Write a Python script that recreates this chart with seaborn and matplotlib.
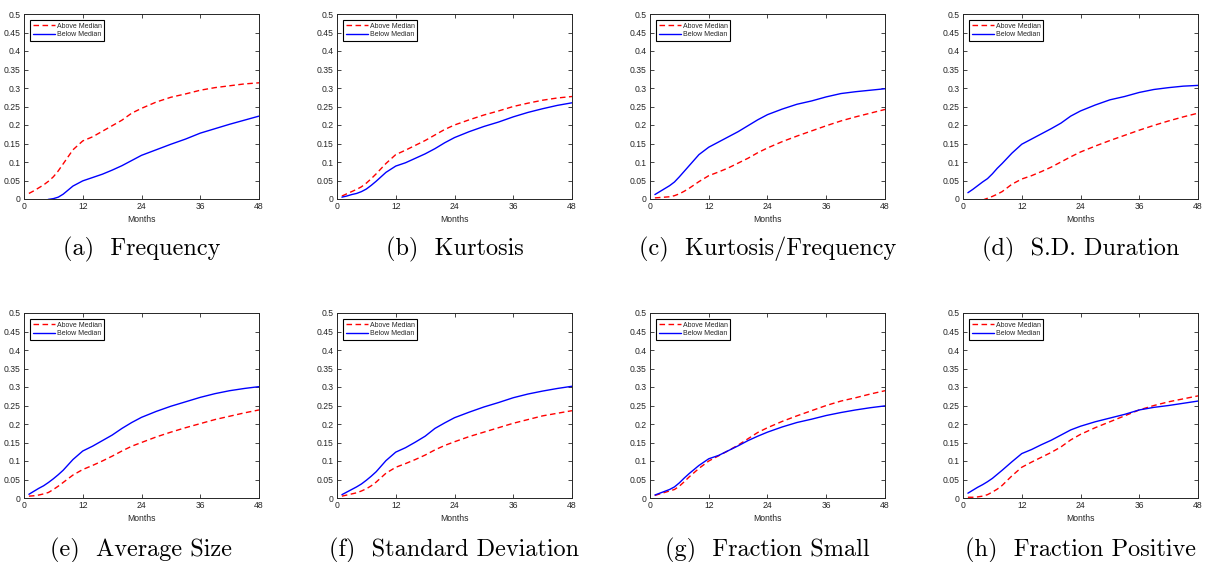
import numpy as np
import pandas as pd
import matplotlib
matplotlib.use("Agg")
import matplotlib.pyplot as plt
import seaborn as sns

nan = np.nan
months = [1, 2, 3, 4, 5, 6, 7, 8, 10, 12, 14, 16, 18, 20, 22, 24, 27, 30, 33, 36, 39, 42, 45, 48]

freq_above = [0.015, 0.022, 0.030, 0.038, 0.048, 0.060, 0.076, 0.095, 0.133, 0.157, 0.168, 0.183, 0.198, 0.213, 0.232, 0.245, 0.262, 0.275, 0.284, 0.294, 0.301, 0.306, 0.311, 0.314]
freq_below = [nan, nan, nan, -0.006, -0.001, 0.001, 0.005, 0.013, 0.035, 0.049, 0.058, 0.067, 0.078, 0.090, 0.104, 0.118, 0.133, 0.148, 0.162, 0.178, 0.190, 0.202, 0.213, 0.224]

kurt_above = [0.008, 0.014, 0.020, 0.026, 0.033, 0.043, 0.055, 0.068, 0.096, 0.120, 0.132, 0.145, 0.158, 0.173, 0.188, 0.200, 0.214, 0.227, 0.238, 0.250, 0.259, 0.267, 0.273, 0.277]
kurt_below = [0.005, 0.008, 0.012, 0.015, 0.020, 0.027, 0.037, 0.048, 0.072, 0.089, 0.098, 0.110, 0.122, 0.136, 0.152, 0.166, 0.182, 0.196, 0.208, 0.222, 0.234, 0.244, 0.253, 0.260]

kf_above = [0.003, 0.004, 0.005, 0.006, 0.009, 0.014, 0.021, 0.029, 0.047, 0.063, 0.073, 0.084, 0.097, 0.110, 0.125, 0.138, 0.155, 0.170, 0.184, 0.198, 0.211, 0.222, 0.232, 0.242]
kf_below = [0.012, 0.020, 0.028, 0.036, 0.046, 0.060, 0.075, 0.090, 0.120, 0.140, 0.154, 0.168, 0.182, 0.198, 0.214, 0.228, 0.243, 0.256, 0.265, 0.276, 0.285, 0.290, 0.294, 0.298]

sdd_above = [nan, nan, nan, -0.003, 0.002, 0.007, 0.013, 0.020, 0.040, 0.054, 0.063, 0.074, 0.086, 0.100, 0.114, 0.127, 0.143, 0.158, 0.172, 0.186, 0.199, 0.211, 0.222, 0.232]
sdd_below = [0.017, 0.026, 0.036, 0.046, 0.055, 0.068, 0.083, 0.096, 0.124, 0.148, 0.162, 0.176, 0.190, 0.205, 0.224, 0.238, 0.254, 0.268, 0.277, 0.288, 0.296, 0.301, 0.305, 0.307]

avg_above = [0.005, 0.006, 0.008, 0.011, 0.015, 0.023, 0.032, 0.042, 0.062, 0.077, 0.088, 0.100, 0.113, 0.127, 0.140, 0.150, 0.165, 0.178, 0.190, 0.201, 0.212, 0.221, 0.230, 0.238]
avg_below = [0.010, 0.018, 0.026, 0.033, 0.042, 0.052, 0.063, 0.075, 0.104, 0.127, 0.140, 0.155, 0.170, 0.188, 0.204, 0.218, 0.234, 0.248, 0.260, 0.272, 0.282, 0.290, 0.296, 0.301]

sd_above = [0.005, 0.008, 0.011, 0.014, 0.019, 0.025, 0.033, 0.043, 0.067, 0.083, 0.093, 0.104, 0.116, 0.130, 0.142, 0.152, 0.166, 0.178, 0.190, 0.202, 0.212, 0.222, 0.229, 0.236]
sd_below = [0.009, 0.016, 0.023, 0.030, 0.038, 0.048, 0.059, 0.071, 0.101, 0.124, 0.136, 0.151, 0.167, 0.188, 0.203, 0.217, 0.232, 0.246, 0.258, 0.271, 0.281, 0.289, 0.296, 0.302]

small_above = [0.007, 0.011, 0.015, 0.019, 0.023, 0.032, 0.044, 0.057, 0.080, 0.100, 0.114, 0.128, 0.143, 0.160, 0.177, 0.190, 0.207, 0.222, 0.236, 0.250, 0.262, 0.271, 0.281, 0.290]
small_below = [0.008, 0.013, 0.018, 0.023, 0.030, 0.041, 0.054, 0.066, 0.088, 0.106, 0.115, 0.128, 0.141, 0.155, 0.167, 0.178, 0.192, 0.204, 0.213, 0.223, 0.231, 0.238, 0.244, 0.249]

pos_above = [0.002, 0.002, 0.003, 0.005, 0.009, 0.016, 0.024, 0.034, 0.060, 0.083, 0.097, 0.110, 0.123, 0.138, 0.157, 0.172, 0.190, 0.206, 0.222, 0.238, 0.250, 0.260, 0.268, 0.276]
pos_below = [0.013, 0.021, 0.029, 0.036, 0.044, 0.053, 0.064, 0.075, 0.098, 0.120, 0.131, 0.144, 0.156, 0.170, 0.184, 0.194, 0.206, 0.216, 0.226, 0.238, 0.245, 0.250, 0.256, 0.262]

captions = ["(a)  Frequency", "(b)  Kurtosis", "(c)  Kurtosis/Frequency", "(d)  S.D. Duration",
            "(e)  Average Size", "(f)  Standard Deviation", "(g)  Fraction Small", "(h)  Fraction Positive"]
series = [(freq_above, freq_below), (kurt_above, kurt_below), (kf_above, kf_below), (sdd_above, sdd_below),
          (avg_above, avg_below), (sd_above, sd_below), (small_above, small_below), (pos_above, pos_below)]
groups = ["Above Median", "Below Median"]
x_ticks = [0, 12, 24, 36, 48]
y_ticks = [0, 0.05, 0.1, 0.15, 0.2, 0.25, 0.3, 0.35, 0.4, 0.45, 0.5]
y_tick_labels = ["0", "0.05", "0.1", "0.15", "0.2", "0.25", "0.3", "0.35", "0.4", "0.45", "0.5"]

sns.set_theme(style="ticks")
plt.rcParams["font.family"] = ["Liberation Sans", "DejaVu Sans"]

W, H = 1206, 562
fig = plt.figure(figsize=(W / 100, H / 100), dpi=100)
lefts = [24, 337, 650, 963]
bottoms = [199, 498]
aw, ah = 235, 185
dark = "#262626"

for i, (cap, (above, below)) in enumerate(zip(captions, series)):
    r, c = divmod(i, 4)
    ax = fig.add_axes([lefts[c] / W, (H - bottoms[r]) / H, aw / W, ah / H])
    df = pd.DataFrame({
        "Month": months * 2,
        "Value": list(above) + list(below),
        "Group": [groups[0]] * len(months) + [groups[1]] * len(months),
    })
    sns.lineplot(data=df, x="Month", y="Value", hue="Group", style="Group",
                 palette={groups[0]: "#ff0000", groups[1]: "#0000ff"},
                 dashes={groups[0]: (4, 2.5), groups[1]: ""},
                 linewidth=1.0, ax=ax, legend=True)
    ax.set_xlim(0, 48)
    ax.set_ylim(0, 0.5)
    ax.set_xticks(x_ticks)
    ax.set_xticklabels([str(t) for t in x_ticks])
    ax.set_yticks(y_ticks)
    ax.set_yticklabels(y_tick_labels)
    ax.tick_params(direction="in", length=3, width=0.6, labelsize=6.2, colors=dark,
                   top=True, right=True, pad=2.5)
    for s in ax.spines.values():
        s.set_visible(True)
        s.set_linewidth(0.7)
        s.set_color(dark)
    ax.set_ylabel("")
    ax.set_xlabel("Months", fontsize=6.2, color=dark, labelpad=2.5)
    handles, labels = ax.get_legend_handles_labels()
    hl = [(h, l) for h, l in zip(handles, labels) if l in groups]
    ax.legend([h for h, _ in hl], [l for _, l in hl], loc="upper left", fontsize=5,
              frameon=True, fancybox=False, edgecolor="black", framealpha=1,
              handlelength=3.2, borderpad=0.35, labelspacing=0.2, handletextpad=0.3,
              borderaxespad=0.9).get_frame().set_linewidth(0.8)
    cx = (lefts[c] + aw / 2) / W
    cy = (H - (255 if r == 0 else 556)) / H
    fig.text(cx, cy, cap, ha="center", va="baseline", fontsize=17.5, family="cmr10", color="black")

fig.savefig("out.png", dpi=100)
